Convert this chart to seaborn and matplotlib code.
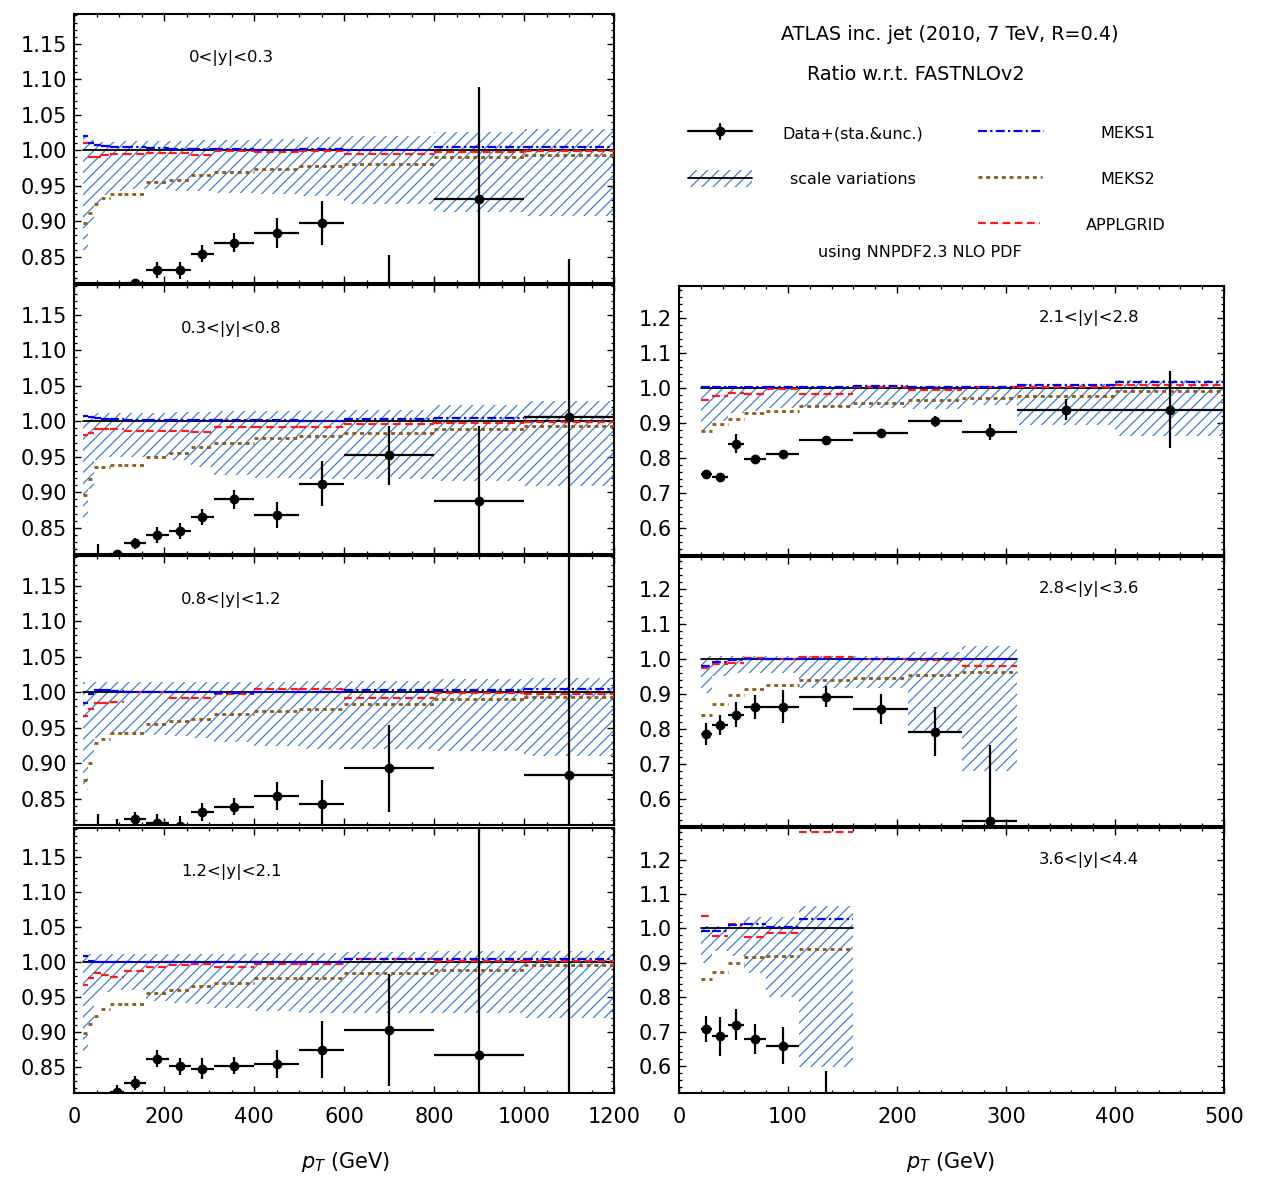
import numpy as np
import matplotlib
matplotlib.use("Agg")
import matplotlib.pyplot as plt
import seaborn as sns
import pandas as pd
from matplotlib.ticker import MultipleLocator, FormatStrFormatter
from matplotlib.patches import Rectangle

# ---------------------------------------------------------------- data
# pT bin edges (GeV)
edges_central = [20, 30, 45, 60, 80, 110, 160, 210, 260, 310, 400, 500, 600, 800, 1000, 1200]
edges_y21 = [20, 30, 45, 60, 80, 110, 160, 210, 260, 310, 400, 500]
edges_y28 = [20, 30, 45, 60, 80, 110, 160, 210, 260, 310]
edges_y36 = [20, 30, 45, 60, 80, 110, 160]

nan = np.nan

# 0<|y|<0.3
y03_band_lo = [0.860, 0.895, 0.925, 0.937, 0.942, 0.945, 0.945, 0.943, 0.942, 0.940, 0.938, 0.935, 0.925, 0.913, 0.908]
y03_band_hi = [1.020, 1.015, 1.013, 1.012, 1.012, 1.013, 1.013, 1.013, 1.014, 1.015, 1.016, 1.018, 1.020, 1.026, 1.030]
y03_meks1 = [1.020, 1.010, 1.007, 1.006, 1.005, 1.004, 1.003, 1.002, 1.002, 1.002, 1.001, 1.002, 1.001, 1.005, 1.004]
y03_meks2 = [0.897, 0.912, 0.925, 0.933, 0.939, 0.939, 0.955, 0.958, 0.965, 0.969, 0.974, 0.978, 0.981, 0.990, 0.994]
y03_appl = [1.010, 0.990, 0.991, 0.993, 0.995, 0.995, 0.996, 0.996, 0.994, 0.999, 0.997, 0.999, 0.995, 0.998, 0.999]
y03_data = [nan, nan, nan, nan, nan, 0.813, 0.831, 0.831, 0.854, 0.870, 0.883, 0.897, 0.740, 0.932, 0.700]
y03_err = [nan, nan, nan, nan, nan, 0.005, 0.011, 0.012, 0.012, 0.013, 0.021, 0.031, 0.113, 0.157, 0.147]

# 0.3<|y|<0.8
y08_band_lo = [0.857, 0.905, 0.945, 0.950, 0.950, 0.950, 0.950, 0.945, 0.935, 0.925, 0.920, 0.918, 0.918, 0.916, 0.909]
y08_band_hi = [1.009, 1.010, 1.012, 1.012, 1.012, 1.012, 1.012, 1.013, 1.013, 1.014, 1.015, 1.015, 1.016, 1.023, 1.028]
y08_meks1 = [1.008, 1.006, 1.004, 1.003, 1.003, 1.002, 1.002, 1.002, 1.002, 1.002, 1.002, 1.001, 1.003, 1.005, 1.006]
y08_meks2 = [0.896, 0.918, 0.935, 0.935, 0.939, 0.939, 0.950, 0.956, 0.964, 0.970, 0.977, 0.979, 0.984, 0.989, 0.993]
y08_appl = [0.980, 0.984, 0.989, 0.989, 0.989, 0.986, 0.986, 0.986, 0.985, 0.992, 0.992, 0.992, 0.996, 0.997, 0.999]
y08_data = [nan, nan, 0.790, nan, 0.813, 0.828, 0.840, 0.845, 0.865, 0.890, 0.868, 0.912, 0.952, 0.888, 1.006]
y08_err = [nan, nan, 0.037, nan, 0.006, 0.008, 0.011, 0.011, 0.011, 0.013, 0.018, 0.032, 0.042, 0.105, 0.300]

# 0.8<|y|<1.2
y12_band_lo = [0.862, 0.905, 0.935, 0.940, 0.942, 0.942, 0.940, 0.938, 0.935, 0.930, 0.925, 0.920, 0.920, 0.917, 0.910]
y12_band_hi = [1.015, 1.015, 1.015, 1.015, 1.015, 1.015, 1.015, 1.015, 1.015, 1.015, 1.015, 1.016, 1.016, 1.018, 1.020]
y12_meks1 = [0.985, 0.997, 1.003, 1.003, 1.002, 1.001, 1.000, 1.000, 1.000, 0.999, 1.000, 1.001, 1.003, 1.003, 1.005]
y12_meks2 = [0.877, 0.900, 0.929, 0.934, 0.942, 0.942, 0.955, 0.959, 0.963, 0.969, 0.973, 0.977, 0.984, 0.990, 0.994]
y12_appl = [0.966, 0.977, 0.985, 0.985, 0.986, 1.000, 1.000, 0.992, 0.992, 0.997, 1.004, 1.004, 0.992, 0.999, 0.998]
y12_data = [nan, nan, 0.790, nan, 0.800, 0.822, 0.816, 0.812, 0.831, 0.839, 0.854, 0.843, 0.893, nan, 0.884]
y12_err = [nan, nan, 0.039, nan, 0.021, 0.010, 0.012, 0.013, 0.013, 0.012, 0.020, 0.033, 0.061, nan, 0.500]

# 1.2<|y|<2.1
y21_band_lo = [0.867, 0.909, 0.950, 0.958, 0.960, 0.960, 0.945, 0.942, 0.940, 0.935, 0.930, 0.928, 0.928, 0.928, 0.920]
y21_band_hi = [1.012, 1.012, 1.012, 1.012, 1.012, 1.012, 1.012, 1.012, 1.012, 1.012, 1.013, 1.013, 1.014, 1.016, 1.016]
y21_meks1 = [1.009, 1.002, 1.001, 1.000, 1.001, 1.001, 1.000, 1.000, 1.000, 1.000, 1.000, 1.001, 1.004, 1.004, 1.004]
y21_meks2 = [0.899, 0.911, 0.923, 0.933, 0.940, 0.940, 0.956, 0.960, 0.966, 0.970, 0.977, 0.977, 0.984, 0.989, 0.996]
y21_appl = [0.967, 0.977, 0.984, 0.982, 0.979, 0.988, 0.993, 0.996, 0.998, 0.993, 0.998, 0.998, 1.004, 1.002, 1.002]
y21_data = [nan, nan, nan, nan, 0.815, 0.828, 0.862, 0.851, 0.848, 0.852, 0.854, 0.875, 0.903, 0.868, 0.600]
y21_err = [nan, nan, nan, nan, 0.010, 0.010, 0.012, 0.012, 0.015, 0.012, 0.020, 0.041, 0.080, 0.450, 0.750]

# 2.1<|y|<2.8
y28_band_lo = [0.878, 0.905, 0.929, 0.933, 0.943, 0.945, 0.943, 0.940, 0.952, 0.895, 0.862]
y28_band_hi = [1.005, 1.005, 1.005, 1.005, 1.005, 1.005, 1.006, 1.006, 1.006, 1.011, 1.022]
y28_meks1 = [1.003, 1.003, 1.004, 1.002, 1.002, 1.003, 1.006, 1.004, 1.004, 1.008, 1.017]
y28_meks2 = [0.878, 0.897, 0.910, 0.929, 0.935, 0.948, 0.957, 0.967, 0.971, 0.976, 0.992]
y28_appl = [0.965, 0.976, 0.986, 0.983, 0.998, 0.983, 1.002, 0.995, 1.002, 1.002, 1.008]
y28_data = [0.755, 0.745, 0.841, 0.798, 0.811, 0.852, 0.870, 0.905, 0.874, 0.938, 0.938]
y28_err = [0.010, 0.010, 0.028, 0.010, 0.010, 0.010, 0.012, 0.016, 0.022, 0.030, 0.110]

# 2.8<|y|<3.6
y36_band_lo = [0.902, 0.950, 0.959, 0.959, 0.959, 0.916, 0.916, 0.788, 0.680]
y36_band_hi = [1.009, 1.009, 1.009, 1.009, 1.009, 1.009, 1.009, 1.020, 1.037]
y36_meks1 = [0.981, 0.992, 0.998, 1.000, 1.000, 1.001, 1.000, 1.000, 1.000]
y36_meks2 = [0.840, 0.871, 0.897, 0.913, 0.926, 0.940, 0.945, 0.954, 0.962]
y36_appl = [0.973, 0.986, 0.990, 1.002, 1.000, 1.005, 1.000, 0.997, 0.981]
y36_data = [0.785, 0.811, 0.840, 0.862, 0.864, 0.892, 0.857, 0.792, 0.537]
y36_err = [0.032, 0.028, 0.036, 0.035, 0.048, 0.030, 0.042, 0.071, 0.217]

# 3.6<|y|<4.4
y44_band_lo = [0.900, 0.935, 0.921, 0.872, 0.802, 0.599]
y44_band_hi = [1.008, 1.008, 1.015, 1.034, 1.034, 1.064]
y44_meks1 = [0.993, 0.993, 1.011, 1.012, 1.003, 1.027]
y44_meks2 = [0.853, 0.875, 0.901, 0.916, 0.921, 0.940]
y44_appl = [1.037, 0.979, 1.013, 0.976, 0.986, 1.280]
y44_data = [0.708, 0.687, 0.721, 0.679, 0.660, 0.450]
y44_err = [0.037, 0.057, 0.044, 0.044, 0.053, 0.137]

panel_labels = ["0<|y|<0.3", "0.3<|y|<0.8", "0.8<|y|<1.2", "1.2<|y|<2.1",
                "2.1<|y|<2.8", "2.8<|y|<3.6", "3.6<|y|<4.4"]

title_lines = ["ATLAS inc. jet (2010, 7 TeV, R=0.4)", "Ratio w.r.t. FASTNLOv2"]
legend_labels = ["Data+(sta.&unc.)", "scale variations", "MEKS1", "MEKS2", "APPLGRID"]
pdf_note = "using NNPDF2.3 NLO PDF"

# ---------------------------------------------------------------- style
sns.set_theme(style="ticks")
plt.rcParams.update({
    "font.family": ["DejaVu Sans"],
    "mathtext.fontset": "dejavusans",
    "text.color": "black",
    "axes.labelcolor": "black",
    "xtick.direction": "in",
    "ytick.direction": "in",
    "xtick.top": True,
    "ytick.right": True,
    "xtick.major.size": 5,
    "ytick.major.size": 5,
    "xtick.minor.size": 2.5,
    "ytick.minor.size": 2.5,
    "xtick.major.width": 1.0,
    "ytick.major.width": 1.0,
    "xtick.minor.width": 0.9,
    "ytick.minor.width": 0.9,
    "xtick.labelsize": 15,
    "ytick.labelsize": 15,
    "xtick.color": "black",
    "ytick.color": "black",
    "axes.edgecolor": "black",
    "axes.linewidth": 1.5,
    "hatch.linewidth": 0.9,
})

HATCH_C = "#3d7fd6"
BLUE = "#0000ff"
RED = "#ff1a1a"
BROWN = "#8c5a14"
LS_MEKS1 = (0, (4, 1.5, 1, 1.5))
LS_MEKS2 = (0, (1.4, 1.4))
LS_APPL = (0, (3.5, 2.0))

W, H = 1263, 1177
fig = plt.figure(figsize=(W / 100, H / 100), dpi=100)


def px_axes(x0, x1, y0, y1):
    return fig.add_axes([x0 / W, 1 - y1 / H, (x1 - x0) / W, (y1 - y0) / H])


def step_ext(v):
    v = np.asarray(v, float)
    return np.append(v, v[-1])


def bin_segments(edges, vals):
    """One horizontal segment per bin, tagged with the bin index."""
    edges = np.asarray(edges, float)
    n = len(vals)
    return pd.DataFrame({
        "pt": np.column_stack([edges[:-1], edges[1:]]).ravel(),
        "r": np.repeat(np.asarray(vals, float), 2),
        "bin": np.repeat(np.arange(n), 2),
    })


def draw_panel(ax, edges, lo, hi, m1, m2, ap, data, err, label, label_xy):
    edges = np.asarray(edges, float)
    # scale-variation band
    ax.fill_between(edges, step_ext(lo), step_ext(hi), step="post",
                    facecolor="none", edgecolor=HATCH_C, hatch="///",
                    linewidth=0, zorder=1)
    # reference (FASTNLO) at unity
    ref = pd.DataFrame({"pt": [edges[0], edges[-1]], "r": [1.0, 1.0]})
    sns.lineplot(data=ref, x="pt", y="r", ax=ax, color="black", lw=1.3,
                 estimator=None, sort=False, zorder=3)
    for vals, col, ls, lw in [(m2, BROWN, LS_MEKS2, 2.0),
                              (ap, RED, LS_APPL, 1.6),
                              (m1, BLUE, LS_MEKS1, 1.6)]:
        sns.lineplot(data=bin_segments(edges, vals), x="pt", y="r",
                     units="bin", estimator=None, sort=False, ax=ax,
                     color=col, linestyle=ls, lw=lw, zorder=4)
    centers = 0.5 * (edges[:-1] + edges[1:])
    halfw = 0.5 * np.diff(edges)
    d = np.asarray(data, float)
    e = np.asarray(err, float)
    ok = ~np.isnan(d)
    ax.errorbar(centers[ok], d[ok], yerr=e[ok], xerr=halfw[ok], fmt="o",
                color="black", ms=6, elinewidth=1.6, capsize=0, zorder=5)
    ax.text(label_xy[0], label_xy[1], label, transform=ax.transAxes,
            ha="center", va="center", fontsize=11.8, color="black")
    ax.set_xlabel("")
    ax.set_ylabel("")


left_rows = [(14, 283), (285, 554), (556, 825), (828, 1093)]
right_rows = [(286, 555), (557, 826), (828, 1093)]

left_sets = [
    (y03_band_lo, y03_band_hi, y03_meks1, y03_meks2, y03_appl, y03_data, y03_err),
    (y08_band_lo, y08_band_hi, y08_meks1, y08_meks2, y08_appl, y08_data, y08_err),
    (y12_band_lo, y12_band_hi, y12_meks1, y12_meks2, y12_appl, y12_data, y12_err),
    (y21_band_lo, y21_band_hi, y21_meks1, y21_meks2, y21_appl, y21_data, y21_err),
]
right_sets = [
    (edges_y21, y28_band_lo, y28_band_hi, y28_meks1, y28_meks2, y28_appl, y28_data, y28_err),
    (edges_y28, y36_band_lo, y36_band_hi, y36_meks1, y36_meks2, y36_appl, y36_data, y36_err),
    (edges_y36, y44_band_lo, y44_band_hi, y44_meks1, y44_meks2, y44_appl, y44_data, y44_err),
]

for i, ((t, b), s) in enumerate(zip(left_rows, left_sets)):
    ax = px_axes(74, 614, t, b)
    draw_panel(ax, edges_central, *s, panel_labels[i], (0.291, 0.835))
    ax.set_xlim(0, 1200)
    ax.set_ylim(0.813, 1.192)
    ax.xaxis.set_major_locator(MultipleLocator(200))
    ax.xaxis.set_minor_locator(MultipleLocator(50))
    ax.yaxis.set_major_locator(MultipleLocator(0.05))
    ax.yaxis.set_minor_locator(MultipleLocator(0.01))
    ax.yaxis.set_major_formatter(FormatStrFormatter("%.2f"))
    ax.tick_params(axis="y", pad=5)
    ax.tick_params(axis="x", labelbottom=(i == 3), pad=10)
    for sp in ax.spines.values():
        sp.set_linewidth(1.5)

for j, ((t, b), s) in enumerate(zip(right_rows, right_sets)):
    ax = px_axes(679, 1224, t, b)
    draw_panel(ax, *s, panel_labels[4 + j], (0.752, 0.881))
    ax.set_xlim(0, 500)
    ax.set_ylim(0.522, 1.292)
    ax.xaxis.set_major_locator(MultipleLocator(100))
    ax.xaxis.set_minor_locator(MultipleLocator(20))
    ax.yaxis.set_major_locator(MultipleLocator(0.1))
    ax.yaxis.set_minor_locator(MultipleLocator(0.02))
    ax.yaxis.set_major_formatter(FormatStrFormatter("%.1f"))
    ax.tick_params(axis="y", pad=5)
    ax.tick_params(axis="x", labelbottom=(j == 2), pad=10)
    for sp in ax.spines.values():
        sp.set_linewidth(1.5)

# ---------------------------------------------------------------- header and legend
ov = fig.add_axes([0, 0, 1, 1], zorder=-1)
ov.set_xlim(0, W)
ov.set_ylim(H, 0)
ov.axis("off")

ov.text(950, 35, title_lines[0], ha="center", va="center", fontsize=13.9)
ov.text(916, 74, title_lines[1], ha="center", va="center", fontsize=13.9)

# data sample
ov.plot([688, 752], [131, 131], color="black", lw=1.6)
ov.plot([720, 720], [124, 139], color="black", lw=1.6)
ov.plot([720], [131], "o", color="black", ms=6)
# scale-variation sample
ov.add_patch(Rectangle((688, 170), 64, 17, facecolor="none", edgecolor=HATCH_C,
                       hatch="///", linewidth=0))
ov.plot([688, 752], [178, 178], color="black", lw=1.3)
# model samples
ov.plot([978, 1044], [131, 131], color=BLUE, ls=LS_MEKS1, lw=1.6)
ov.plot([978, 1042], [177, 177], color=BROWN, ls=LS_MEKS2, lw=2.0)
ov.plot([978, 1040], [223, 223], color=RED, ls=LS_APPL, lw=1.6)

ov.text(782, 134, legend_labels[0], ha="left", va="center", fontsize=11.5)
ov.text(790, 180, legend_labels[1], ha="left", va="center", fontsize=11.5)
ov.text(1100, 134, legend_labels[2], ha="left", va="center", fontsize=11.5)
ov.text(1100, 180, legend_labels[3], ha="left", va="center", fontsize=11.5)
ov.text(1086, 225, legend_labels[4], ha="left", va="center", fontsize=11.5)
ov.text(818, 252, pdf_note, ha="left", va="center", fontsize=11.5)

# axis titles
ov.text(346, 1162, r"$p_T$ (GeV)", ha="center", va="center", fontsize=15)
ov.text(951, 1162, r"$p_T$ (GeV)", ha="center", va="center", fontsize=15)

fig.savefig("out.png", dpi=100)
